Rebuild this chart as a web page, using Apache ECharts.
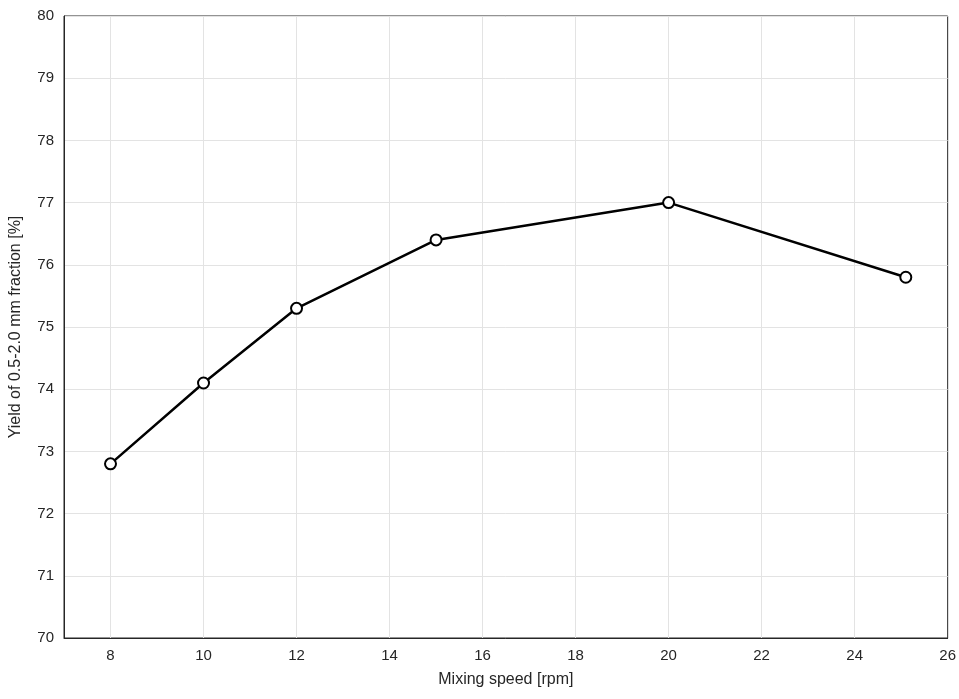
<!DOCTYPE html><html><head><meta charset="utf-8"><script src="https://cdn.jsdelivr.net/npm/echarts@6/dist/echarts.min.js"></script></head><body style="margin:0"><div id="c" style="width:959px;height:699px"></div><script>
const speeds=[8,10,12,15,20,25.1];
const yields=[72.8,74.1,75.3,76.4,77.0,75.8];
const xGrid=[8,10,12,14,16,18,20,22,24];
const ch=echarts.init(document.getElementById('c'));
const f="Arial, 'Liberation Sans', sans-serif";
ch.setOption({animation:false,
grid:{left:63,right:10,top:16,bottom:61,show:true,borderColor:'#262626',borderWidth:1},
xAxis:{type:'value',min:7,max:26,interval:1,name:'Mixing speed [rpm]',nameLocation:'middle',nameGap:34,nameTextStyle:{fontFamily:f,fontSize:16,color:'#262626'},
axisLine:{lineStyle:{color:'#262626'}},axisTick:{show:false},splitLine:{show:false},
axisLabel:{fontFamily:f,fontSize:15,color:'#262626',margin:10,formatter:v=>v%2===0?String(v):''}},
yAxis:{type:'value',min:70,max:80,interval:1,name:'Yield of 0.5-2.0 mm fraction [%]',nameLocation:'middle',nameGap:40,nameTextStyle:{fontFamily:f,fontSize:16,color:'#262626'},
axisLine:{lineStyle:{color:'#262626'}},axisTick:{show:false},splitLine:{lineStyle:{color:'#e3e3e3'}},
axisLabel:{fontFamily:f,fontSize:15,color:'#262626',margin:10}},
series:[{type:'line',data:speeds.map((x,i)=>[x,yields[i]]),symbol:'circle',symbolSize:11,
itemStyle:{color:'#fff',borderColor:'#000',borderWidth:2},lineStyle:{color:'#000',width:2.5},
markLine:{silent:true,symbol:'none',label:{show:false},lineStyle:{color:'#e3e3e3',type:'solid',width:1},data:xGrid.map(v=>({xAxis:v})),z:0}}]});
</script></body></html>
